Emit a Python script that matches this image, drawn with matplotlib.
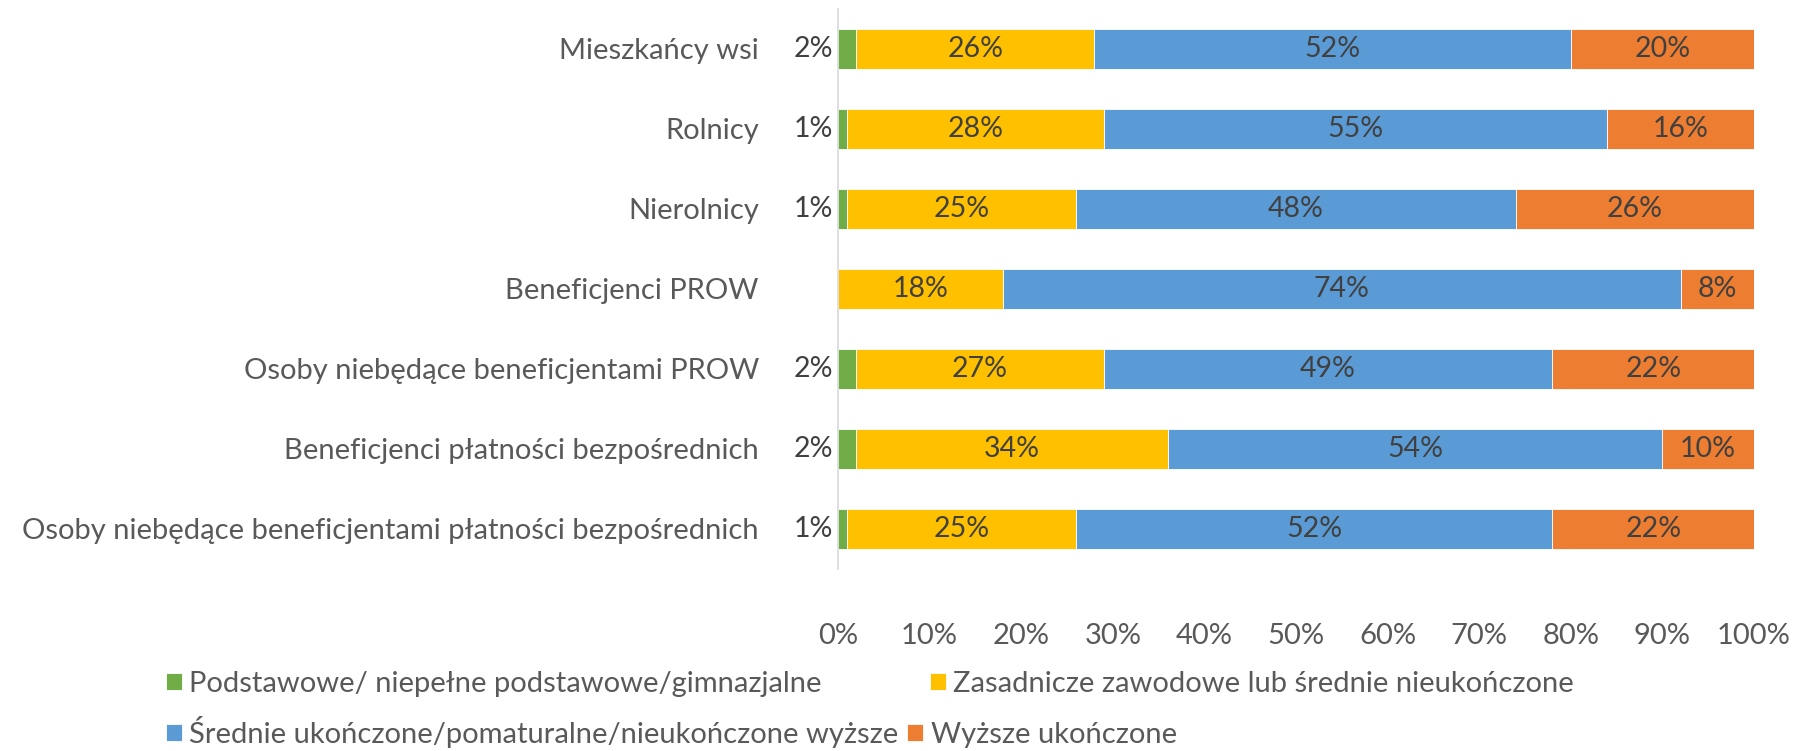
import matplotlib.pyplot as plt
import numpy as np

plt.rcParams['font.family'] = ['Lato', 'DejaVu Sans']

kategorie = ["Mieszkańcy wsi", "Rolnicy", "Nierolnicy", "Beneficjenci PROW",
             "Osoby niebędące beneficjentami PROW",
             "Beneficjenci płatności bezpośrednich",
             "Osoby niebędące beneficjentami płatności bezpośrednich"]

podstawowe = [2, 1, 1, 0, 2, 2, 1]
zasadnicze = [26, 28, 25, 18, 27, 34, 25]
srednie = [52, 55, 48, 74, 49, 54, 52]
wyzsze = [20, 16, 26, 8, 22, 10, 22]

serie = ["Podstawowe/ niepełne podstawowe/gimnazjalne",
         "Zasadnicze zawodowe lub średnie nieukończone",
         "Średnie ukończone/pomaturalne/nieukończone wyższe",
         "Wyższe ukończone"]
kolory = ["#70AD47", "#FFC000", "#5B9BD5", "#ED7D31"]

tekst = "#404040"
szary = "#595959"
rozmiar = 21

fig = plt.figure(figsize=(17.94, 7.51), dpi=100)
ax = fig.add_axes([838 / 1794, 1 - 569 / 751, 916 / 1794, 560 / 751])

y = np.arange(len(kategorie))
dane = [np.array(podstawowe), np.array(zasadnicze), np.array(srednie), np.array(wyzsze)]
lewo = np.zeros(len(kategorie))
kontenery = []
for wartosci, kolor, nazwa in zip(dane, kolory, serie):
    b = ax.barh(y, wartosci / 100, left=lewo / 100, height=0.5, color=kolor,
                edgecolor="white", linewidth=0.6, label=nazwa)
    kontenery.append(b)
    lewo = lewo + wartosci

# etykiety: zielone po lewej stronie osi, reszta na środku segmentu
for yi, v in zip(y, podstawowe):
    if v > 0:
        ax.annotate(f"{v}%", (0, yi), xytext=(-3.5, 0), textcoords="offset points",
                    ha="right", va="center", fontsize=20.5, color=tekst)
for b, wartosci in zip(kontenery[1:], dane[1:]):
    ax.bar_label(b, labels=[f"{v}%" for v in wartosci], label_type="center",
                 fontsize=20.5, color=tekst)

ax.set_xlim(0, 1)
ax.set_ylim(len(kategorie) - 0.5, -0.5)
ax.set_yticks(y)
ax.set_yticklabels(kategorie)
ax.set_xticks(np.linspace(0, 1, 11))
ax.set_xticklabels([f"{int(t)}%" for t in np.linspace(0, 100, 11)])
ax.tick_params(axis="y", length=0, pad=57, labelsize=rozmiar, labelcolor=szary)
ax.tick_params(axis="x", length=0, pad=39, labelsize=rozmiar, labelcolor=szary)
for s in ["top", "right", "bottom"]:
    ax.spines[s].set_visible(False)
ax.spines["left"].set_color("#D9D9D9")
ax.spines["left"].set_linewidth(1.2)

h, l = ax.get_legend_handles_labels()
wsp = dict(frameon=False, fontsize=rozmiar, loc="center left", borderpad=0,
           borderaxespad=0, handlelength=0.55, handleheight=0.55,
           handletextpad=0.25, ncol=2, labelcolor=szary)
leg1 = fig.legend(h[:2], l[:2], bbox_to_anchor=(166 / 1794, 1 - 684 / 751),
                  columnspacing=3.7, **wsp)
leg2 = fig.legend(h[2:], l[2:], bbox_to_anchor=(166 / 1794, 1 - 732 / 751),
                  columnspacing=0.3, **wsp)

plt.savefig("out.png", dpi=100)
plt.close()
